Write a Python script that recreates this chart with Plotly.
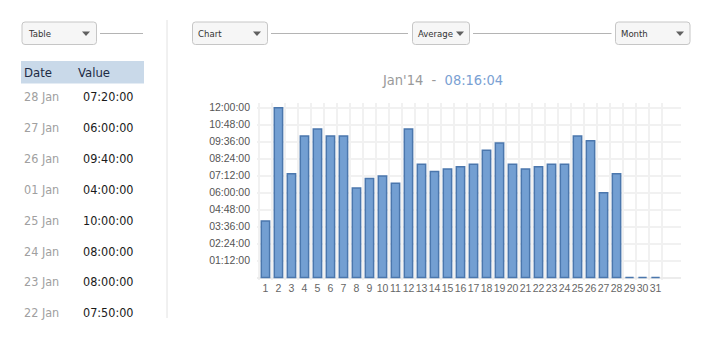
import plotly.graph_objects as go

# ---------------- data ----------------
days = [str(d) for d in range(1, 32)]
# hours per day (Jan'14)
hours = [4.0, 12.0, 7 + 20/60, 10.0, 10.5, 10.0, 10.0, 6 + 20/60, 7.0, 7 + 10/60,
         6 + 40/60, 10.5, 8.0, 7.5, 7 + 40/60, 7 + 50/60, 8.0, 9.0, 9.5, 8.0,
         7 + 40/60, 7 + 50/60, 8.0, 8.0, 10.0, 9 + 40/60, 6.0, 7 + 20/60, 0, 0, 0]
ytick_vals = [0, 1.2, 2.4, 3.6, 4.8, 6.0, 7.2, 8.4, 9.6, 10.8, 12.0]
ytick_text = ["", "01:12:00", "02:24:00", "03:36:00", "04:48:00", "06:00:00",
              "07:12:00", "08:24:00", "09:36:00", "10:48:00", "12:00:00"]
table_dates = ["28 Jan", "27 Jan", "26 Jan", "01 Jan", "25 Jan", "24 Jan", "23 Jan", "22 Jan"]
table_values = ["07:20:00", "06:00:00", "09:40:00", "04:00:00", "10:00:00", "08:00:00",
                "08:00:00", "07:50:00"]
title_period = "Jan'14"
title_avg = "08:16:04"
controls = ["Table", "Chart", "Average", "Month"]

# ---------------- layout helpers ----------------
WIDTH, HEIGHT = 710, 340
PL, PR, PT, PB = 257, 681, 103, 280  # plot area in pixels
def X(px):
    return (px - PL) / (PR - PL)
def Y(py):
    return (PB - py) / (PB - PT)

NARROW = "DejaVu Sans Condensed, Liberation Sans Narrow, sans-serif"
ARIAL = "Liberation Sans, Arial, sans-serif"

fig = go.Figure()
fig.add_trace(go.Bar(
    x=days, y=hours,
    marker=dict(color="#739fd2", line=dict(color="#4b77ad", width=1.5)),
    hoverinfo="x+y",
))

shapes = []
annotations = []

def rrect(x0, y0, x1, y1, r=3, fill="#f6f6f6", line="#c6c6c6"):
    p = (f"M {X(x0+r)},{Y(y0)} L {X(x1-r)},{Y(y0)} Q {X(x1)},{Y(y0)} {X(x1)},{Y(y0+r)} "
         f"L {X(x1)},{Y(y1-r)} Q {X(x1)},{Y(y1)} {X(x1-r)},{Y(y1)} "
         f"L {X(x0+r)},{Y(y1)} Q {X(x0)},{Y(y1)} {X(x0)},{Y(y1-r)} "
         f"L {X(x0)},{Y(y0+r)} Q {X(x0)},{Y(y0)} {X(x0+r)},{Y(y0)} Z")
    shapes.append(dict(type="path", xref="paper", yref="paper", path=p,
                       fillcolor=fill, line=dict(color=line, width=1), layer="above"))

def arrow(cx, cy):
    p = f"M {X(cx-4)},{Y(cy-2)} L {X(cx+4)},{Y(cy-2)} L {X(cx)},{Y(cy+2.5)} Z"
    shapes.append(dict(type="path", xref="paper", yref="paper", path=p,
                       fillcolor="#606060", line=dict(width=0), layer="above"))

def hline(x0, x1, y, color="#b4b4b4", w=1):
    shapes.append(dict(type="line", xref="paper", yref="paper", x0=X(x0), x1=X(x1),
                       y0=Y(y), y1=Y(y), line=dict(color=color, width=w), layer="above"))

def text(px, py, s, color="#333", size=11, anchor="left", family=NARROW):
    annotations.append(dict(xref="paper", yref="paper", x=X(px), y=Y(py), text=s,
                            showarrow=False, xanchor=anchor, yanchor="middle",
                            font=dict(family=family, size=size, color=color)))

def dropdown(x0, x1, label, arrow_x):
    rrect(x0, 22, x1, 44.5)
    text(x0 + 3.5, 33, label, color="#333", size=9.5)
    arrow(arrow_x, 33.5)

# dropdowns + connector lines
dropdown(22, 96.5, controls[0], 86)
hline(100, 143, 33.5)
dropdown(192.5, 267.5, controls[1], 257)
hline(271, 408, 33.5)
dropdown(412.5, 469.5, controls[2], 460)
hline(473, 611.5, 33.5)
dropdown(615.5, 690, controls[3], 680)

# vertical separator
shapes.append(dict(type="line", xref="paper", yref="paper", x0=X(167), x1=X(167),
                   y0=Y(20), y1=Y(318), line=dict(color="#e2e2e2", width=1), layer="above"))

# table header
shapes.append(dict(type="rect", xref="paper", yref="paper", x0=X(21), x1=X(144),
                   y0=Y(61), y1=Y(83.5), fillcolor="#c9d9e9", line=dict(width=0), layer="above"))
text(22, 72.5, "Date", color="#1d2a44", size=13)
text(76, 72.5, "Value", color="#1d2a44", size=13)
for i, (d, v) in enumerate(zip(table_dates, table_values)):
    yy = 96.5 + i * 30.9
    text(22, yy, d, color="#a0a0a0", size=12.5)
    text(81, yy, v, color="#1a1a1a", size=12.5)

# title
annotations.append(dict(xref="paper", yref="paper", x=X(442.5), y=Y(80.5),
                        text=f"<span style='color:#9a9a9a'>{title_period}</span>"
                             f"  -  <span style='color:#7aa1d3'>{title_avg}</span>",
                        showarrow=False, xanchor="center", yanchor="middle",
                        font=dict(family=NARROW, size=14.5, color="#9a9a9a")))

fig.update_layout(
    width=WIDTH, height=HEIGHT,
    margin=dict(l=PL, r=WIDTH - PR, t=PT, b=HEIGHT - PB, pad=0),
    paper_bgcolor="white", plot_bgcolor="white",
    showlegend=False, bargap=0.36,
    shapes=shapes, annotations=annotations,
    xaxis=dict(type="category", range=[-0.65, 31.96], tickson="boundaries",
               showgrid=True, gridcolor="#f1f1f1", gridwidth=1.5, ticks="",
               tickangle=0,
               tickfont=dict(family=ARIAL, size=10.5, color="#666"),
               showline=False, zeroline=False, fixedrange=True),
    yaxis=dict(range=[-0.17, 12.33], tickvals=ytick_vals, ticktext=ytick_text,
               showgrid=True, gridcolor="#f1f1f1", gridwidth=1.5, ticks="",
               zeroline=True, zerolinecolor="#ececec", zerolinewidth=1.5,
               tickfont=dict(family=ARIAL, size=10.5, color="#555"),
               showline=False, ticklabelstandoff=6, fixedrange=True),
)

fig.write_html("out.html")
